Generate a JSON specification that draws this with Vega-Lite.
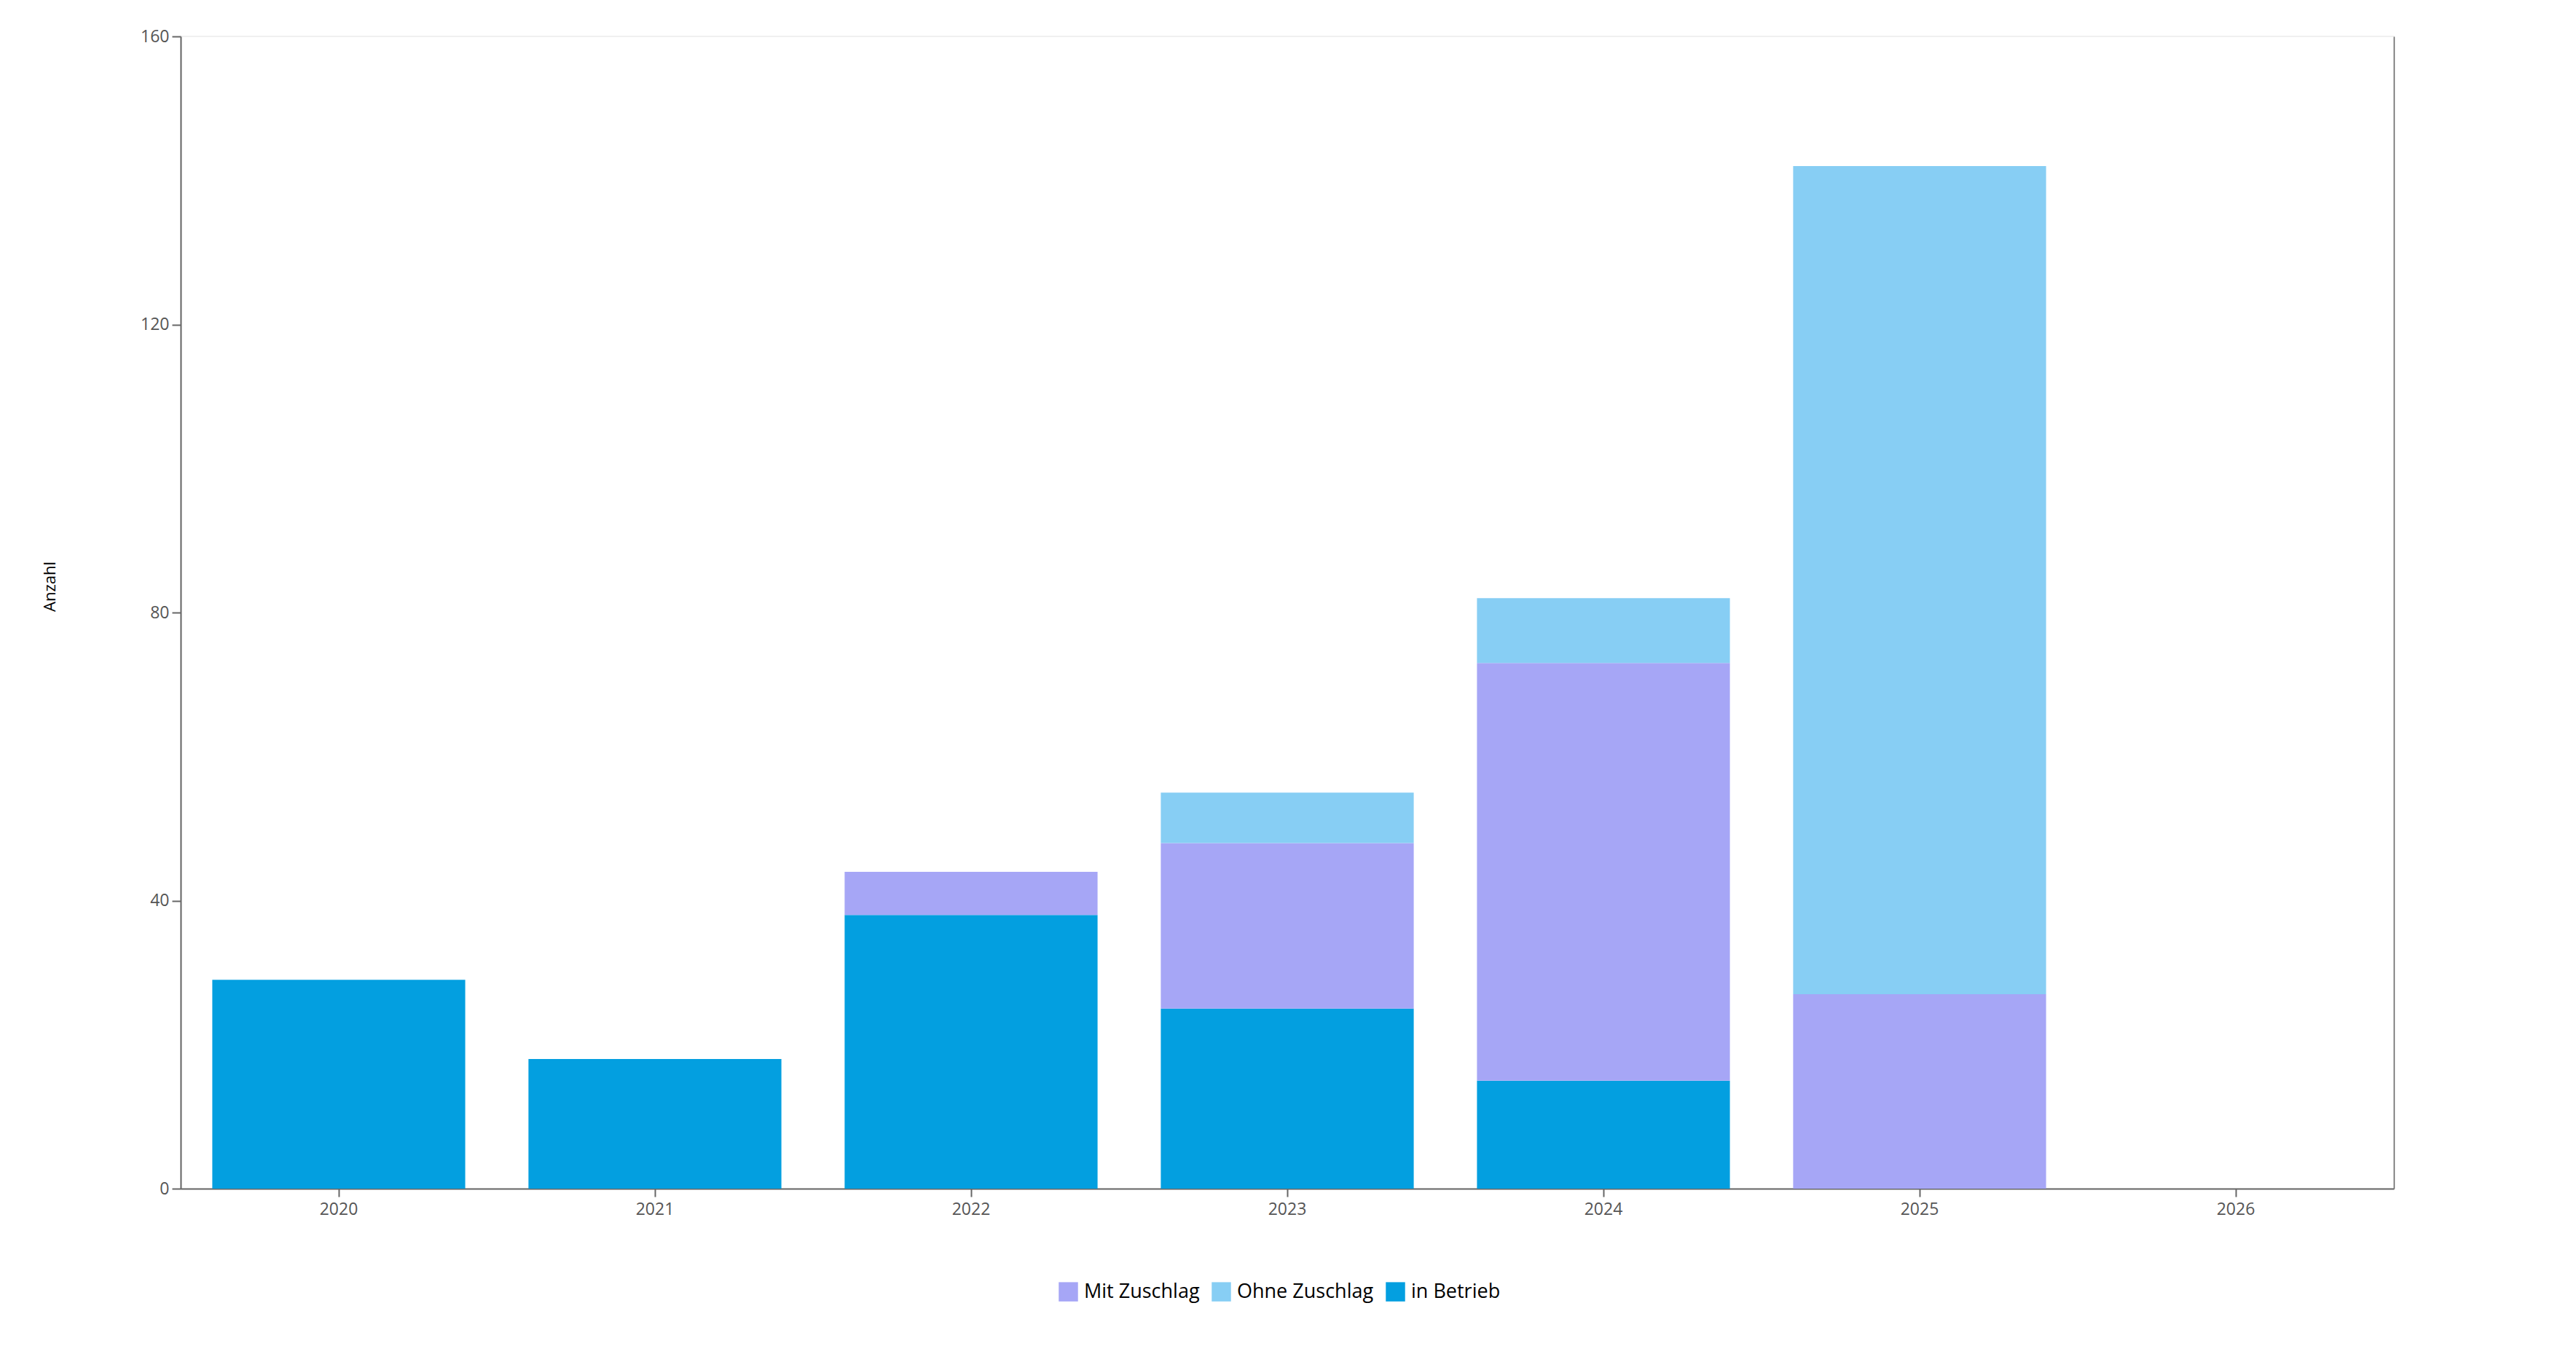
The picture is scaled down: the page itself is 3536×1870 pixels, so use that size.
{
  "$schema": "https://vega.github.io/schema/vega-lite/v6.json",
  "autosize": "none",
  "width": 3038,
  "height": 1582,
  "padding": {"left": 248, "top": 50, "right": 250, "bottom": 238},
  "background": "white",
  "config": {
    "font": "Open Sans",
    "view": {"stroke": "#f0f0f0", "strokeWidth": 2},
    "axis": {
      "domainColor": "#666666",
      "domainWidth": 2,
      "tickColor": "#666666",
      "tickWidth": 2,
      "labelColor": "#555555",
      "labelFontSize": 23,
      "titleFontSize": 22,
      "titleFontWeight": "normal",
      "titleColor": "#000000",
      "grid": false
    }
  },
  "data": {
    "values": [
      {"Jahr": "2020", "Status": "in Betrieb", "Anzahl": 29},
      {"Jahr": "2021", "Status": "in Betrieb", "Anzahl": 18},
      {"Jahr": "2022", "Status": "in Betrieb", "Anzahl": 38},
      {"Jahr": "2022", "Status": "Mit Zuschlag", "Anzahl": 6},
      {"Jahr": "2023", "Status": "in Betrieb", "Anzahl": 25},
      {"Jahr": "2023", "Status": "Mit Zuschlag", "Anzahl": 23},
      {"Jahr": "2023", "Status": "Ohne Zuschlag", "Anzahl": 7},
      {"Jahr": "2024", "Status": "in Betrieb", "Anzahl": 15},
      {"Jahr": "2024", "Status": "Mit Zuschlag", "Anzahl": 58},
      {"Jahr": "2024", "Status": "Ohne Zuschlag", "Anzahl": 9},
      {"Jahr": "2025", "Status": "Mit Zuschlag", "Anzahl": 27},
      {"Jahr": "2025", "Status": "Ohne Zuschlag", "Anzahl": 115}
    ]
  },
  "transform": [
    {"calculate": "indexof(['in Betrieb', 'Mit Zuschlag', 'Ohne Zuschlag'], datum.Status)", "as": "Reihenfolge"}
  ],
  "resolve": {"axis": {"y": "independent"}},
  "layer": [
    {
      "mark": {"type": "bar"},
      "encoding": {
        "x": {
          "field": "Jahr",
          "type": "nominal",
          "scale": {
            "domain": ["2020", "2021", "2022", "2023", "2024", "2025", "2026"],
            "paddingInner": 0.2,
            "paddingOuter": 0.1
          },
          "axis": {"title": null, "labelAngle": 0, "tickSize": 11, "labelPadding": 6}
        },
        "y": {
          "field": "Anzahl",
          "type": "quantitative",
          "stack": "zero",
          "scale": {"domain": [0, 160], "nice": false},
          "axis": {
            "title": "Anzahl",
            "titleFontWeight": "normal",
            "titleFont": "Open Sans",
            "values": [0, 40, 80, 120, 160],
            "tickSize": 12,
            "labelPadding": 4,
            "titlePadding": 112,
            "titleY": 755
          }
        },
        "color": {
          "field": "Status",
          "type": "nominal",
          "scale": {
            "domain": ["Mit Zuschlag", "Ohne Zuschlag", "in Betrieb"],
            "range": ["#a6a6f6", "#87cef4", "#039fe0"]
          },
          "legend": {
            "title": null,
            "orient": "none",
            "legendX": 1205,
            "legendY": 1710,
            "direction": "horizontal",
            "symbolType": "square",
            "symbolSize": 700,
            "symbolStrokeWidth": 0,
            "labelFontSize": 27,
            "labelLimit": 0,
            "labelColor": "#000000",
            "columnPadding": 16,
            "labelOffset": 8
          }
        },
        "order": {"field": "Reihenfolge", "type": "quantitative"}
      }
    },
    {
      "mark": {"type": "rule", "opacity": 0},
      "encoding": {
        "y": {
          "datum": 0,
          "type": "quantitative",
          "axis": {
            "orient": "right",
            "title": null,
            "labels": false,
            "ticks": false,
            "domainWidth": 1.5
          }
        }
      }
    }
  ]
}
